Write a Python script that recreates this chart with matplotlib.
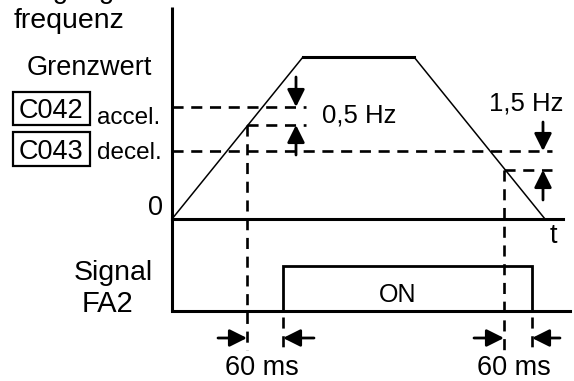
import matplotlib.pyplot as plt
from matplotlib.patches import Rectangle

plt.rcParams['font.family'] = ['Liberation Sans', 'DejaVu Sans']

# diagram geometry (pixel coordinates of the 574x381 picture)
ramp_x = [172, 303, 414, 545]
ramp_y = [219, 57, 57, 219]
limit_levels = {"C042": 107, "C043": 151}
hyst_levels = [125, 170]           # limit - 0.5 Hz, limit - 1.5 Hz
hyst_x = [247, 504]                # where the ramp crosses the hysteresis level
signal_on = [283, 532]             # FA2 on / off (60 ms later)
signal_base, signal_top = 311, 266
t_axis_y = 219

fig = plt.figure(figsize=(5.74, 3.81), dpi=100)
ax = fig.add_axes([0, 0, 1, 1])
ax.set_xlim(0, 574)
ax.set_ylim(381, 0)
ax.axis("off")

axis_lw = 2.2
dash_lw = 1.9
dash = (0, (4.2, 2.9))

# axes
ax.plot([172, 172], [7, signal_base], color="black", lw=axis_lw, solid_capstyle="butt")
ax.plot([172, 563], [t_axis_y, t_axis_y], color="black", lw=axis_lw)
ax.plot([172, 570], [signal_base, signal_base], color="black", lw=axis_lw)

# frequency ramp
ax.plot(ramp_x[:2], ramp_y[:2], color="black", lw=1.1)
ax.plot(ramp_x[1:3], ramp_y[1:3], color="black", lw=2.2)
ax.plot(ramp_x[2:], ramp_y[2:], color="black", lw=1.1)

# limit / hysteresis dashed lines
ax.plot([172, 306], [limit_levels["C042"]] * 2, color="black", lw=dash_lw, ls=dash)
ax.plot([hyst_x[0], 306], [hyst_levels[0]] * 2, color="black", lw=dash_lw, ls=dash)
ax.plot([172, 552], [limit_levels["C043"]] * 2, color="black", lw=dash_lw, ls=dash)
ax.plot([hyst_x[1], 552], [hyst_levels[1]] * 2, color="black", lw=dash_lw, ls=dash)
for x, y in zip(hyst_x, hyst_levels):
    ax.plot([x, x], [y, 350], color="black", lw=dash_lw, ls=dash)
for x in signal_on:
    ax.plot([x, x], [317, 350], color="black", lw=dash_lw, ls=dash)

# FA2 signal pulse
ax.plot([signal_on[0], signal_on[0], signal_on[1], signal_on[1]],
        [signal_base, signal_top, signal_top, signal_base],
        color="black", lw=2.0, solid_joinstyle="miter")


def arrow(x0, y0, x1, y1):
    ax.annotate("", xy=(x1, y1), xytext=(x0, y0),
                arrowprops=dict(arrowstyle="-|>,head_length=0.7,head_width=0.35",
                                color="black", lw=2.0,
                                mutation_scale=15, shrinkA=0, shrinkB=0))


arrow(296, 77, 296, limit_levels["C042"])
arrow(296, 155, 296, hyst_levels[0])
arrow(543, 122, 543, limit_levels["C043"])
arrow(543, 200, 543, hyst_levels[1])
arrow(218, 338, hyst_x[0], 338)
arrow(314, 338, signal_on[0], 338)
arrow(474, 338, hyst_x[1], 338)
arrow(560, 338, signal_on[1], 338)

# boxed parameter codes
for name, (y0, y1) in zip(["C042", "C043"], [(92, 125), (132, 166)]):
    ax.add_patch(Rectangle((13, y0), 77, y1 - y0, fill=False, ec="black", lw=1.6))

fs = 19.5
ax.text(72, -2, "Ausgangs-", fontsize=20, ha="center", va="baseline")
ax.text(69, 28, "frequenz", fontsize=20.5, ha="center", va="baseline")
ax.text(89, 75, "Grenzwert", fontsize=fs, ha="center", va="baseline")
ax.text(51, 118, "C042", fontsize=fs, ha="center", va="baseline")
ax.text(97, 124, "accel.", fontsize=17.5, ha="left", va="baseline")
ax.text(51, 159, "C043", fontsize=fs, ha="center", va="baseline")
ax.text(97, 159, "decel.", fontsize=17.5, ha="left", va="baseline")
ax.text(163, 215, "0", fontsize=fs, ha="right", va="baseline")
ax.text(553, 243, "t", fontsize=fs, ha="center", va="baseline")
ax.text(322, 122, "0,5 Hz", fontsize=18.5, ha="left", va="baseline")
ax.text(563, 110, "1,5 Hz", fontsize=18.5, ha="right", va="baseline")
ax.text(398, 302, "ON", fontsize=18, ha="center", va="baseline")
ax.text(113, 280, "Signal", fontsize=20.5, ha="center", va="baseline")
ax.text(108, 312, "FA2", fontsize=21, ha="center", va="baseline")
ax.text(262, 375, "60 ms", fontsize=fs, ha="center", va="baseline")
ax.text(514, 375, "60 ms", fontsize=fs, ha="center", va="baseline")

fig.savefig("out.png", dpi=100)
